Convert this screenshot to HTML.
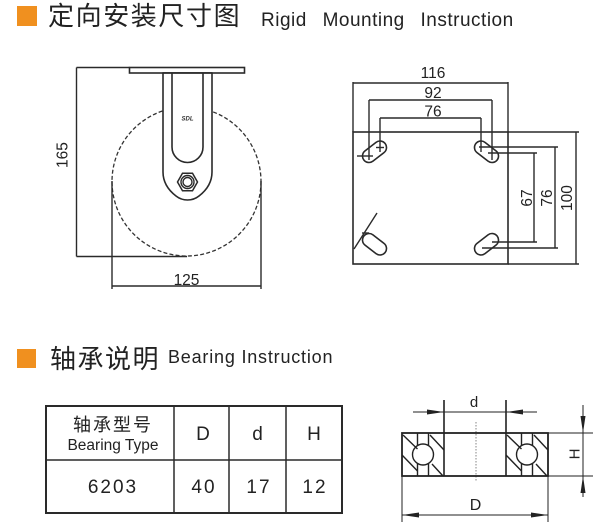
<!DOCTYPE html>
<html><head><meta charset="utf-8"><style>
html,body{margin:0;padding:0;background:#fff;}
svg{display:block;}
text{font-family:"Liberation Sans","Noto Sans CJK SC",sans-serif;}
</style></head><body>
<svg width="603" height="527" viewBox="0 0 603 527" xmlns="http://www.w3.org/2000/svg">
<rect width="603" height="527" fill="#fff"/>

<!-- Title 1 -->
<rect x="17" y="6" width="20" height="20" fill="#F0901F"/>
<text x="48" y="25" font-size="26" letter-spacing="1.6" fill="#222">定向安装尺寸图</text>
<text x="261" y="26" font-size="19" word-spacing="10" letter-spacing="0.5" fill="#222">Rigid Mounting Instruction</text>

<!-- Caster side view -->
<g stroke="#2a2a2a" stroke-width="1.4" fill="none">
  <line x1="76.5" y1="67.5" x2="76.5" y2="256.5"/>
  <line x1="76.5" y1="67.5" x2="129.5" y2="67.5"/>
  <line x1="76.5" y1="256.5" x2="187" y2="256.5"/>
  <circle cx="186.5" cy="181.5" r="74.5" stroke="#333" stroke-width="1.3" stroke-dasharray="4 2.2"/>
  <rect x="129.5" y="67.5" width="115" height="5.5" fill="#fff" stroke-width="1.6"/>
  <path d="M163,73 L163,172 Q163,186 176,196 Q181,200 187.5,200 Q194,200 199,196 Q212,186 212,172 L212,73 Z" fill="#fff" stroke-width="1.6"/>
  <line x1="163" y1="73" x2="212" y2="73" stroke-width="1.6"/>
  <path d="M172,73 L172,147 A15.5,15.5 0 0 0 203,147 L203,73" stroke-width="1.6"/>
  <polygon points="177.5,182 182.5,173.3 192.5,173.3 197.5,182 192.5,190.7 182.5,190.7" stroke-width="1.5"/>
  <circle cx="187.5" cy="182" r="6.5"/>
  <circle cx="187.5" cy="182" r="4.5"/>
  <line x1="112" y1="181" x2="112" y2="289"/>
  <line x1="261" y1="181" x2="261" y2="289"/>
  <line x1="112" y1="286" x2="261" y2="286"/>
</g>
<text x="187.5" y="120.5" font-size="6" font-weight="bold" font-style="italic" text-anchor="middle" fill="#333">SDL</text>
<text x="186.5" y="285" font-size="15.5" text-anchor="middle" fill="#222">125</text>
<text transform="translate(62,155) rotate(-90)" y="5.5" font-size="15.5" text-anchor="middle" fill="#222">165</text>

<!-- Plate top view -->
<g stroke="#2a2a2a" stroke-width="1.4" fill="none">
  <rect x="353" y="132" width="155" height="132" stroke-width="1.6"/>
  <line x1="353" y1="82" x2="353" y2="132"/>
  <line x1="508" y1="82" x2="508" y2="132"/>
  <line x1="353" y1="83" x2="508" y2="83"/>
  <line x1="508" y1="132" x2="579" y2="132"/>
  <line x1="508" y1="264" x2="579" y2="264"/>
  <line x1="576" y1="132" x2="576" y2="264"/>
  <line x1="369" y1="100" x2="492" y2="100"/>
  <line x1="369" y1="100" x2="369" y2="160"/>
  <line x1="492" y1="100" x2="492" y2="160"/>
  <line x1="380" y1="118" x2="481" y2="118"/>
  <line x1="380" y1="118" x2="380" y2="152"/>
  <line x1="481" y1="118" x2="481" y2="152"/>
  <g stroke-width="1.6">
  <rect x="-13.45" y="-6.5" width="26.9" height="13" rx="6.5" transform="translate(374.5,151.75) rotate(-37.7)"/>
  <rect x="-13.45" y="-6.5" width="26.9" height="13" rx="6.5" transform="translate(486.5,151.75) rotate(37.7)"/>
  <rect x="-13.45" y="-6.5" width="26.9" height="13" rx="6.5" transform="translate(374.5,244.25) rotate(37.7)"/>
  <rect x="-13.45" y="-6.5" width="26.9" height="13" rx="6.5" transform="translate(486.5,244.25) rotate(-37.7)"/>
  </g>
  <line x1="357" y1="156" x2="373" y2="156"/>
  <line x1="376" y1="147.5" x2="384" y2="147.5"/>
  <line x1="479" y1="147" x2="558" y2="147"/>
  <line x1="488" y1="153" x2="537" y2="153"/>
  <line x1="492" y1="242" x2="537" y2="242"/>
  <line x1="482" y1="248" x2="558" y2="248"/>
  <line x1="534" y1="153" x2="534" y2="242"/>
  <line x1="555" y1="147" x2="555" y2="248"/>
  <line x1="377" y1="213" x2="354" y2="249"/>
  <line x1="362" y1="233" x2="369" y2="233"/>
</g>
<g fill="#222" font-size="15.5" text-anchor="middle">
  <text x="433" y="78">116</text>
  <text x="433" y="98">92</text>
  <text x="433" y="116.5">76</text>
  <text transform="translate(526.5,198) rotate(-90)" y="5.5">67</text>
  <text transform="translate(546.5,198) rotate(-90)" y="5.5">76</text>
  <text transform="translate(566.5,198) rotate(-90)" y="5.5">100</text>
</g>

<!-- Title 2 -->
<rect x="17" y="349" width="19" height="19" fill="#F0901F"/>
<text x="50" y="368" font-size="26" letter-spacing="1.5" fill="#222">轴承说明</text>
<text x="168" y="363" font-size="18" letter-spacing="0.8" fill="#222">Bearing Instruction</text>

<!-- Table -->
<g stroke="#2a2a2a" fill="none">
  <rect x="46" y="406" width="296" height="107" stroke-width="2"/>
  <line x1="46" y1="460" x2="342" y2="460" stroke-width="1.5"/>
  <line x1="174" y1="406" x2="174" y2="513" stroke-width="1.5"/>
  <line x1="229" y1="406" x2="229" y2="513" stroke-width="1.5"/>
  <line x1="286" y1="406" x2="286" y2="513" stroke-width="1.5"/>
</g>
<g fill="#222" text-anchor="middle">
  <text x="113" y="431" font-size="18" letter-spacing="2">轴承型号</text>
  <text x="113" y="450" font-size="15.5">Bearing Type</text>
  <text x="203" y="440" font-size="19">D</text>
  <text x="257.5" y="440" font-size="19">d</text>
  <text x="314" y="440" font-size="19">H</text>
  <text x="113" y="493" font-size="19" letter-spacing="2">6203</text>
  <text x="204" y="493" font-size="19" letter-spacing="2">40</text>
  <text x="259" y="493" font-size="19" letter-spacing="2">17</text>
  <text x="315" y="493" font-size="19" letter-spacing="2">12</text>
</g>

<!-- Bearing drawing -->
<g stroke="#222" fill="none">
  <line x1="476" y1="422" x2="476" y2="482" stroke="#999" stroke-width="1.2" stroke-dasharray="1.5 1.5"/>
  <rect x="402" y="433" width="146" height="43" stroke-width="1.8"/>
  <line x1="444" y1="400" x2="444" y2="476" stroke-width="1.6"/>
  <line x1="506" y1="400" x2="506" y2="476" stroke-width="1.6"/>
  <line x1="548" y1="433" x2="593" y2="433" stroke-width="1"/>
  <line x1="548" y1="476" x2="593" y2="476" stroke-width="1"/>
  <line x1="402" y1="476" x2="402" y2="522" stroke-width="1"/>
  <line x1="548" y1="476" x2="548" y2="522" stroke-width="1"/>
  <line x1="413" y1="412" x2="537" y2="412" stroke-width="1"/>
  <line x1="402" y1="515" x2="548" y2="515" stroke-width="1"/>
  <line x1="583" y1="405" x2="583" y2="497" stroke-width="1"/>
  <g stroke-width="1.4">
    <circle cx="423" cy="454.5" r="10.5"/>
    <line x1="417.5" y1="433" x2="417.5" y2="445.5"/><line x1="417.5" y1="463.5" x2="417.5" y2="476"/>
    <line x1="428.5" y1="433" x2="428.5" y2="445.5"/><line x1="428.5" y1="463.5" x2="428.5" y2="476"/>
    <line x1="403" y1="435" x2="417.5" y2="449"/>
    <line x1="402" y1="455" x2="417.5" y2="471"/>
    <line x1="430" y1="435" x2="444" y2="450"/>
    <line x1="432" y1="464" x2="443" y2="476"/>
    <circle cx="527" cy="454.5" r="10.5"/>
    <line x1="521.5" y1="433" x2="521.5" y2="445.5"/><line x1="521.5" y1="463.5" x2="521.5" y2="476"/>
    <line x1="532.5" y1="433" x2="532.5" y2="445.5"/><line x1="532.5" y1="463.5" x2="532.5" y2="476"/>
    <line x1="507" y1="435" x2="521.5" y2="449"/>
    <line x1="506" y1="455" x2="521.5" y2="471"/>
    <line x1="534" y1="435" x2="548" y2="450"/>
    <line x1="536" y1="464" x2="547" y2="476"/>
  </g>
</g>
<g fill="#222">
  <polygon points="444,412 427,409.5 427,414.5"/>
  <polygon points="506,412 523,409.5 523,414.5"/>
  <polygon points="402,515 419,512.5 419,517.5"/>
  <polygon points="548,515 531,512.5 531,517.5"/>
  <polygon points="583,433 580.5,416 585.5,416"/>
  <polygon points="583,476 580.5,493 585.5,493"/>
</g>
<g fill="#222" text-anchor="middle">
  <text x="474" y="407" font-size="15">d</text>
  <text x="475.5" y="510" font-size="16">D</text>
  <text transform="translate(574,454) rotate(-90)" y="5.5" font-size="15">H</text>
</g>
</svg>
</body></html>
